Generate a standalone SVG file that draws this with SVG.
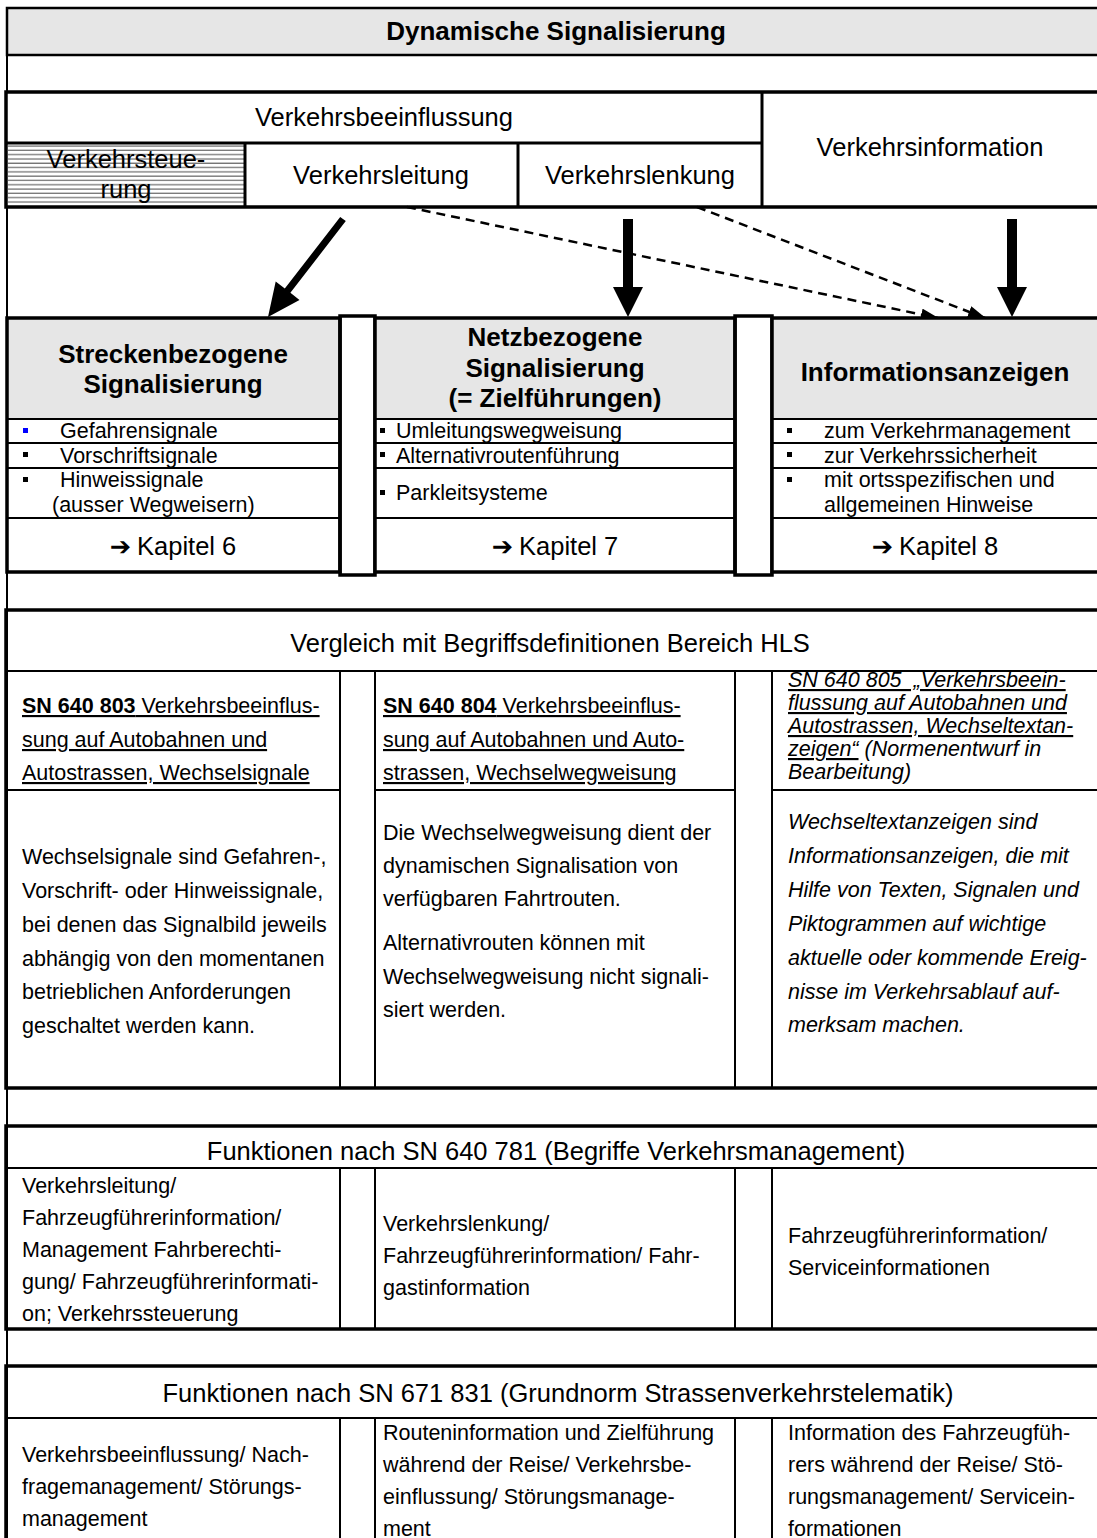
<svg xmlns="http://www.w3.org/2000/svg" width="1097" height="1538" viewBox="0 0 1097 1538">
<style>
text{font-family:"Liberation Sans",Arial,Helvetica,sans-serif;fill:#000}
.L{font-size:25.5px}
.B{font-size:26px;font-weight:bold}
.t{font-size:21.5px}
.it{font-style:italic}
.u{text-decoration:underline}
.c{text-anchor:middle}
.arr{font-family:"DejaVu Sans",sans-serif}
.thk{fill:none;stroke:#000;stroke-width:3.5}
.ln{stroke:#000;stroke-width:2;fill:none}
.ln3{stroke:#000;stroke-width:3;fill:none}
.hdr{fill:#e6e6e6}
.dash{stroke:#000;stroke-width:2.5;stroke-dasharray:9 6;fill:none}
</style>
<defs>
<pattern id="hatch" patternUnits="userSpaceOnUse" x="0" y="145" width="20" height="4.3">
<line x1="0" y1="1" x2="20" y2="1" stroke="#333" stroke-width="0.9"/>
</pattern>
<marker id="dh" markerUnits="userSpaceOnUse" markerWidth="18" markerHeight="12" viewBox="0 0 18 12" refX="17" refY="6" orient="auto">
<path d="M0,0 L18,6 L0,12 z" fill="#000"/>
</marker>
</defs>
<rect x="0" y="0" width="1097" height="1538" fill="#fff"/>

<g id="frame">
<line x1="7" y1="8" x2="7" y2="1538" class="ln"/>
</g>

<g id="title">
<rect x="7" y="8" width="1100" height="47" class="hdr" stroke="#000" stroke-width="2.5"/>
<text x="556" y="40" class="c B">Dynamische Signalisierung</text>
</g>

<g id="verkehrsbeeinflussung">
<rect x="6" y="92" width="1100" height="115" fill="#fff"/>
<text x="384" y="126" class="c L">Verkehrsbeeinflussung</text>
</g>
<g id="verkehrssteuerung">
<rect x="8" y="145" width="236" height="60" fill="url(#hatch)"/>
<text x="126" y="168" class="c L">Verkehrsteue-</text>
<text x="126" y="198" class="c L">rung</text>
</g>
<g id="verkehrsleitung">
<text x="381" y="184" class="c L">Verkehrsleitung</text>
</g>
<g id="verkehrslenkung">
<text x="640" y="184" class="c L">Verkehrslenkung</text>
</g>
<g id="verkehrsinformation">
<text x="930" y="156" class="c L">Verkehrsinformation</text>
</g>
<g id="box-a-lines">
<line x1="6" y1="143" x2="762" y2="143" class="ln3"/>
<line x1="762" y1="92" x2="762" y2="207" class="ln3"/>
<line x1="245" y1="143" x2="245" y2="207" class="ln3"/>
<line x1="518" y1="143" x2="518" y2="207" class="ln3"/>
<rect x="6" y="92" width="1100" height="115" class="thk"/>
</g>

<g id="connectors">
<polygon points="345.8,221.1 290.4,292.8 299.5,299.9 268,317 275.7,281.5 284.8,288.6 340.2,216.9" fill="#000"/>
<polygon points="623,219 633,219 633,287 643,287 628,317 613,287 623,287" fill="#000"/>
<polygon points="1007,219 1017,219 1017,287 1027,287 1012,317 997,287 1007,287" fill="#000"/>
<line x1="407" y1="207" x2="938" y2="318" class="dash" marker-end="url(#dh)"/>
<line x1="697" y1="207" x2="985" y2="318" class="dash" marker-end="url(#dh)"/>
</g>

<g id="streckenbezogene">
<rect x="7" y="318" width="333" height="254" fill="#fff"/>
<rect x="7" y="318" width="333" height="101" class="hdr"/>
<text x="173" y="363" class="c B">Streckenbezogene</text>
<text x="173" y="393" class="c B">Signalisierung</text>
<line x1="7" y1="419" x2="340" y2="419" class="ln"/>
<line x1="7" y1="443" x2="340" y2="443" class="ln"/>
<line x1="7" y1="468" x2="340" y2="468" class="ln"/>
<line x1="7" y1="518" x2="340" y2="518" class="ln"/>
<rect x="23" y="428" width="5" height="5" fill="#0000ff"/>
<text x="60" y="438" class="t">Gefahrensignale</text>
<rect x="23" y="452" width="5" height="5" fill="#000"/>
<text x="60" y="463" class="t">Vorschriftsignale</text>
<rect x="23" y="477" width="5" height="5" fill="#000"/>
<text x="60" y="487" class="t">Hinweissignale</text>
<text x="52" y="512" class="t">(ausser Wegweisern)</text>
<text x="173" y="555" class="c L"><tspan class="arr">➔</tspan><tspan dx="6">Kapitel 6</tspan></text>
<rect x="7" y="318" width="333" height="254" class="thk"/>
</g>

<g id="gap-1">
<rect x="340" y="316" width="35" height="259" fill="#fff" class="thk"/>
</g>

<g id="netzbezogene">
<rect x="375" y="318" width="360" height="254" fill="#fff"/>
<rect x="375" y="318" width="360" height="101" class="hdr"/>
<text x="555" y="346" class="c B">Netzbezogene</text>
<text x="555" y="377" class="c B">Signalisierung</text>
<text x="555" y="407" class="c B">(= Zielführungen)</text>
<line x1="375" y1="419" x2="735" y2="419" class="ln"/>
<line x1="375" y1="443" x2="735" y2="443" class="ln"/>
<line x1="375" y1="468" x2="735" y2="468" class="ln"/>
<line x1="375" y1="518" x2="735" y2="518" class="ln"/>
<rect x="380" y="428" width="5" height="5" fill="#000"/>
<text x="396" y="438" class="t">Umleitungswegweisung</text>
<rect x="380" y="452" width="5" height="5" fill="#000"/>
<text x="396" y="463" class="t">Alternativroutenführung</text>
<rect x="380" y="490" width="5" height="5" fill="#000"/>
<text x="396" y="500" class="t">Parkleitsysteme</text>
<text x="555" y="555" class="c L"><tspan class="arr">➔</tspan><tspan dx="6">Kapitel 7</tspan></text>
<rect x="375" y="318" width="360" height="254" class="thk"/>
</g>

<g id="gap-2">
<rect x="735" y="316" width="37" height="259" fill="#fff" class="thk"/>
</g>

<g id="informationsanzeigen">
<rect x="772" y="318" width="330" height="254" fill="#fff"/>
<rect x="772" y="318" width="330" height="101" class="hdr"/>
<text x="935" y="381" class="c B">Informationsanzeigen</text>
<line x1="772" y1="419" x2="1100" y2="419" class="ln"/>
<line x1="772" y1="443" x2="1100" y2="443" class="ln"/>
<line x1="772" y1="468" x2="1100" y2="468" class="ln"/>
<line x1="772" y1="518" x2="1100" y2="518" class="ln"/>
<rect x="787" y="428" width="5" height="5" fill="#000"/>
<text x="824" y="438" class="t">zum Verkehrmanagement</text>
<rect x="787" y="452" width="5" height="5" fill="#000"/>
<text x="824" y="463" class="t">zur Verkehrssicherheit</text>
<rect x="787" y="477" width="5" height="5" fill="#000"/>
<text x="824" y="487" class="t">mit ortsspezifischen und</text>
<text x="824" y="512" class="t">allgemeinen Hinweise</text>
<text x="935" y="555" class="c L"><tspan class="arr">➔</tspan><tspan dx="6">Kapitel 8</tspan></text>
<rect x="772" y="318" width="330" height="254" class="thk"/>
</g>

<g id="hls">
<text x="550" y="652" class="c L">Vergleich mit Begriffsdefinitionen Bereich HLS</text>
<line x1="6" y1="671" x2="1100" y2="671" class="ln"/>
<line x1="340" y1="671" x2="340" y2="1088" class="ln"/>
<line x1="375" y1="671" x2="375" y2="1088" class="ln"/>
<line x1="735" y1="671" x2="735" y2="1088" class="ln"/>
<line x1="772" y1="671" x2="772" y2="1088" class="ln"/>
<line x1="6" y1="790" x2="340" y2="790" class="ln"/>
<line x1="375" y1="790" x2="735" y2="790" class="ln"/>
<line x1="772" y1="790" x2="1100" y2="790" class="ln"/>
<rect x="6" y="610" width="1100" height="478" class="thk"/>
</g>
<g id="hls-sn640803">
<text x="22" y="713" class="t"><tspan class="u"><tspan font-weight="bold">SN 640 803</tspan> Verkehrsbeeinflus-</tspan></text>
<text x="22" y="747" class="t u">sung auf Autobahnen und</text>
<text x="22" y="780" class="t u">Autostrassen, Wechselsignale</text>
</g>
<g id="hls-sn640804">
<text x="383" y="713" class="t"><tspan class="u"><tspan font-weight="bold">SN 640 804</tspan> Verkehrsbeeinflus-</tspan></text>
<text x="383" y="747" class="t u">sung auf Autobahnen und Auto-</text>
<text x="383" y="780" class="t u">strassen, Wechselwegweisung</text>
</g>
<g id="hls-sn640805">
<text x="788" y="687" class="t it u">SN 640 805&#160; „Verkehrsbeein-</text>
<text x="788" y="710" class="t it u">flussung auf Autobahnen und</text>
<text x="788" y="733" class="t it u">Autostrassen, Wechseltextan-</text>
<text x="788" y="756" class="t it"><tspan class="u">zeigen“</tspan> (Normenentwurf in</text>
<text x="788" y="779" class="t it">Bearbeitung)</text>
</g>
<g id="hls-wechselsignale">
<text x="22" y="864" class="t">Wechselsignale sind Gefahren-,</text>
<text x="22" y="898" class="t">Vorschrift- oder Hinweissignale,</text>
<text x="22" y="932" class="t">bei denen das Signalbild jeweils</text>
<text x="22" y="966" class="t">abhängig von den momentanen</text>
<text x="22" y="999" class="t">betrieblichen Anforderungen</text>
<text x="22" y="1033" class="t">geschaltet werden kann.</text>
</g>
<g id="hls-wechselwegweisung">
<text x="383" y="840" class="t">Die Wechselwegweisung dient der</text>
<text x="383" y="873" class="t">dynamischen Signalisation von</text>
<text x="383" y="906" class="t">verfügbaren Fahrtrouten.</text>
<text x="383" y="950" class="t">Alternativrouten können mit</text>
<text x="383" y="984" class="t">Wechselwegweisung nicht signali-</text>
<text x="383" y="1017" class="t">siert werden.</text>
</g>
<g id="hls-wechseltextanzeigen">
<text x="788" y="829" class="t it">Wechseltextanzeigen sind</text>
<text x="788" y="863" class="t it">Informationsanzeigen, die mit</text>
<text x="788" y="897" class="t it">Hilfe von Texten, Signalen und</text>
<text x="788" y="931" class="t it">Piktogrammen auf wichtige</text>
<text x="788" y="965" class="t it">aktuelle oder kommende Ereig-</text>
<text x="788" y="999" class="t it">nisse im Verkehrsablauf auf-</text>
<text x="788" y="1032" class="t it">merksam machen.</text>
</g>

<g id="funktionen-640781">
<text x="556" y="1160" class="c L">Funktionen nach SN 640 781 (Begriffe Verkehrsmanagement)</text>
<line x1="6" y1="1168" x2="1100" y2="1168" class="ln"/>
<line x1="340" y1="1168" x2="340" y2="1329" class="ln"/>
<line x1="375" y1="1168" x2="375" y2="1329" class="ln"/>
<line x1="735" y1="1168" x2="735" y2="1329" class="ln"/>
<line x1="772" y1="1168" x2="772" y2="1329" class="ln"/>
<rect x="6" y="1126" width="1100" height="203" class="thk"/>
<text x="22" y="1193" class="t">Verkehrsleitung/</text>
<text x="22" y="1225" class="t">Fahrzeugführerinformation/</text>
<text x="22" y="1257" class="t">Management Fahrberechti-</text>
<text x="22" y="1289" class="t">gung/ Fahrzeugführerinformati-</text>
<text x="22" y="1321" class="t">on; Verkehrssteuerung</text>
<text x="383" y="1231" class="t">Verkehrslenkung/</text>
<text x="383" y="1263" class="t">Fahrzeugführerinformation/ Fahr-</text>
<text x="383" y="1295" class="t">gastinformation</text>
<text x="788" y="1243" class="t">Fahrzeugführerinformation/</text>
<text x="788" y="1275" class="t">Serviceinformationen</text>
</g>

<g id="funktionen-671831">
<text x="558" y="1402" class="c L">Funktionen nach SN 671 831 (Grundnorm Strassenverkehrstelematik)</text>
<line x1="6" y1="1418" x2="1100" y2="1418" class="ln"/>
<line x1="340" y1="1418" x2="340" y2="1540" class="ln"/>
<line x1="375" y1="1418" x2="375" y2="1540" class="ln"/>
<line x1="735" y1="1418" x2="735" y2="1540" class="ln"/>
<line x1="772" y1="1418" x2="772" y2="1540" class="ln"/>
<rect x="6" y="1366" width="1100" height="180" class="thk"/>
<text x="22" y="1462" class="t">Verkehrsbeeinflussung/ Nach-</text>
<text x="22" y="1494" class="t">fragemanagement/ Störungs-</text>
<text x="22" y="1526" class="t">management</text>
<text x="383" y="1440" class="t">Routeninformation und Zielführung</text>
<text x="383" y="1472" class="t">während der Reise/ Verkehrsbe-</text>
<text x="383" y="1504" class="t">einflussung/ Störungsmanage-</text>
<text x="383" y="1536" class="t">ment</text>
<text x="788" y="1440" class="t">Information des Fahrzeugfüh-</text>
<text x="788" y="1472" class="t">rers während der Reise/ Stö-</text>
<text x="788" y="1504" class="t">rungsmanagement/ Servicein-</text>
<text x="788" y="1536" class="t">formationen</text>
</g>
</svg>
